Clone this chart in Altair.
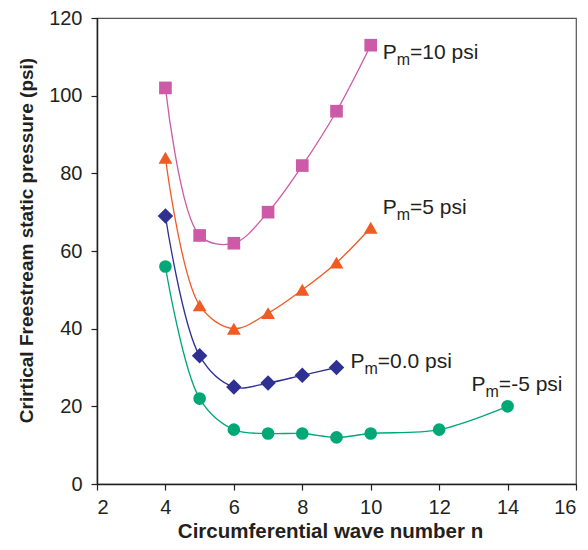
import altair as alt
import pandas as pd

# ---- data ----
n_10 = [4, 5, 6, 7, 8, 9, 10]
p_10 = [102, 64, 62, 70, 82, 96, 113]
n_5 = [4, 5, 6, 7, 8, 9, 10]
p_5 = [84, 46, 40, 44, 50, 57, 66]
n_0 = [4, 5, 6, 7, 8, 9]
p_0 = [69, 33, 25, 26, 28, 30]
n_m5 = [4, 5, 6, 7, 8, 9, 10, 12, 14]
p_m5 = [56, 22, 14, 13, 13, 12, 13, 14, 20]

series_names = ["Pm=10 psi", "Pm=5 psi", "Pm=0.0 psi", "Pm=-5 psi"]
label_suffix = ["=10 psi", "=5 psi", "=0.0 psi", "=-5 psi"]
x_ticks = [2, 4, 6, 8, 10, 12, 14, 16]
y_ticks = [0, 20, 40, 60, 80, 100, 120]

# ---- styles ----
colors = ["#CC5AA6", "#F15A22", "#2E3192", "#00A878"]
shapes = ["square", "triangle-up", "diamond", "circle"]
sizes = [160, 190, 240, 160]
label_offsets = [(12, 14), (12, -14), (14, 0), (-36, -15)]
FONT = "Liberation Sans"
TXT = "#231F20"

ns = [n_10, n_5, n_0, n_m5]
ps = [p_10, p_5, p_0, p_m5]

xs = alt.Scale(domain=[2, 16], nice=False)
ys = alt.Scale(domain=[0, 120], nice=False)

x_enc = alt.X("n:Q", scale=xs, title="Circumferential wave number n",
              axis=alt.Axis(values=x_ticks, format="d", titleX=233))
y_enc = alt.Y("p:Q", scale=ys, title="Crirtical Freestream static pressure (psi)",
              axis=alt.Axis(values=y_ticks, format="d", titleY=222))

line_layers = []
point_layers = []
text_layers = []
for name, nn, pp, suf, c, shp, sz, (dx, dy) in zip(
        series_names, ns, ps, label_suffix, colors, shapes, sizes, label_offsets):
    d = pd.DataFrame({"n": nn, "p": pp})
    line_layers.append(alt.Chart(d).mark_line(
        interpolate="catmull-rom", strokeWidth=1.3, color=c).encode(x=x_enc, y=y_enc))
    point_layers.append(alt.Chart(d).mark_point(
        filled=True, opacity=1, strokeWidth=0, color=c, shape=shp, size=sz
    ).encode(x=x_enc, y=y_enc))

    anchor = pd.DataFrame({"n": [nn[-1]], "p": [pp[-1]], "P": ["P"], "m": ["m"], "s": [suf]})
    base = alt.Chart(anchor).encode(x=alt.X("n:Q", scale=xs), y=alt.Y("p:Q", scale=ys))
    text_layers.append(base.mark_text(align="left", baseline="alphabetic", dx=dx, dy=dy,
                                      fontSize=21, font=FONT, color=TXT).encode(text="P:N"))
    text_layers.append(base.mark_text(align="left", baseline="alphabetic", dx=dx + 14, dy=dy + 6,
                                      fontSize=16, font=FONT, color=TXT).encode(text="m:N"))
    text_layers.append(base.mark_text(align="left", baseline="alphabetic", dx=dx + 27.3, dy=dy,
                                      fontSize=21, font=FONT, color=TXT).encode(text="s:N"))

chart = alt.layer(*(line_layers + point_layers + text_layers)).properties(
    width=479, height=466,
    autosize=alt.AutoSizeParams(type="none"),
    padding={"left": 89, "top": 10, "right": 4, "bottom": 58},
).configure_view(
    stroke="#555555", strokeWidth=1.2
).configure_axis(
    grid=False, domainColor=TXT, domainWidth=1.5, tickColor=TXT, tickWidth=1.2,
    tickSize=6, labelFont=FONT, labelFontSize=20, labelColor=TXT,
    titleFont=FONT, titleFontWeight="bold", titleColor=TXT,
).configure_axisY(
    labelPadding=9, titlePadding=12, titleFontSize=19
).configure_axisX(
    labelPadding=7, titlePadding=4, titleFontSize=20.5
)

chart.save("out.html", embed_options={"renderer": "svg", "actions": False})
